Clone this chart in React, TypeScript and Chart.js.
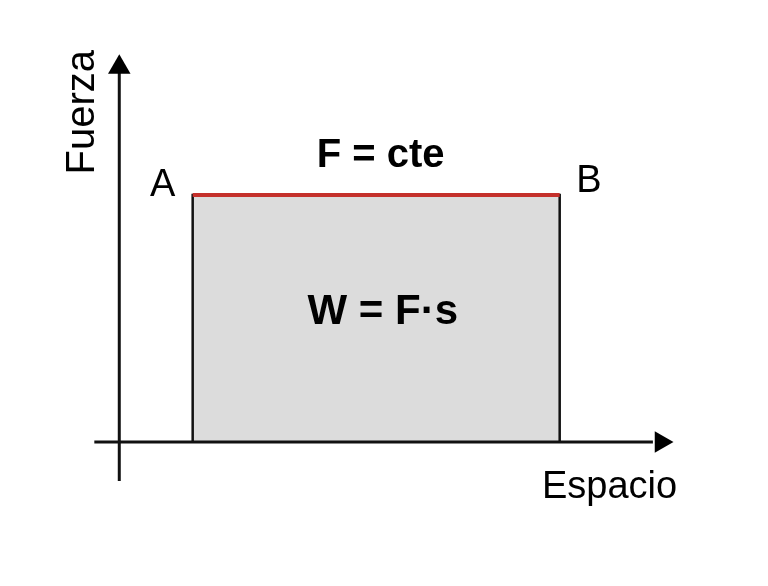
import React, { useEffect, useRef } from "react";
import { Chart, registerables } from "chart.js";

Chart.register(...registerables);

// Work diagram: constant force F over displacement s
const spaceStart = 1; // point A (espacio)
const spaceEnd = 6; // point B (espacio)
const forceValue = 4; // F = cte

const xAxisRange = [-0.34, 7.27];
const yAxisRange = [-0.63, 6.0];
const xArrowTip = 7.38;
const yArrowTip = 6.07;

const labelTexts = ["Fuerza", "Espacio", "A", "B", "F = cte", "W = F·s"];

export default function App() {
  const ref = useRef<HTMLCanvasElement | null>(null);

  useEffect(() => {
    if (!ref.current) return;

    const textPlugin = {
      id: "diagramText",
      afterDatasetsDraw(chart: any) {
        const { ctx, scales } = chart;
        const X = (v: number) => scales.x.getPixelForValue(v);
        const Y = (v: number) => scales.y.getPixelForValue(v);
        const fam = "'Liberation Sans', Arial, sans-serif";
        const items = [
          { t: labelTexts[0], x: -0.5, y: 5.34, font: `40px ${fam}`, rot: -Math.PI / 2, base: "middle" },
          { t: labelTexts[1], x: 6.68, y: -0.91, font: `38px ${fam}`, rot: 0, base: "alphabetic" },
          { t: labelTexts[2], x: spaceStart - 0.41, y: forceValue + 0.16, font: `38px ${fam}`, rot: 0, base: "middle" },
          { t: labelTexts[3], x: spaceEnd + 0.4, y: forceValue + 0.22, font: `38px ${fam}`, rot: 0, base: "middle" },
          { t: labelTexts[4], x: (spaceStart + spaceEnd) / 2 + 0.06, y: forceValue + 0.64, font: `bold 40px ${fam}`, rot: 0, base: "middle" },
          { t: labelTexts[5], x: (spaceStart + spaceEnd) / 2 + 0.09, y: forceValue / 2 + 0.1, font: `bold 42px ${fam}`, rot: 0, base: "middle" },
        ];
        ctx.save();
        ctx.fillStyle = "#000";
        ctx.textAlign = "center";
        for (const it of items) {
          ctx.save();
          ctx.font = it.font;
          ctx.textBaseline = it.base;
          ctx.translate(X(it.x), Y(it.y));
          ctx.rotate(it.rot);
          ctx.fillText(it.t, 0, 0);
          ctx.restore();
        }
        ctx.restore();
      },
    };

    const chart = new Chart(ref.current, {
      type: "line",
      data: {
        datasets: [
          {
            label: "Trabajo",
            order: 3,
            data: [
              { x: spaceStart, y: 0 },
              { x: spaceStart, y: forceValue },
              { x: spaceEnd, y: forceValue },
              { x: spaceEnd, y: 0 },
            ],
            borderColor: "#111",
            borderWidth: 2.5,
            backgroundColor: "#dcdcdc",
            fill: "origin",
            pointRadius: 0,
            tension: 0,
          },
          {
            label: "F",
            order: 1,
            data: [
              { x: spaceStart, y: forceValue },
              { x: spaceEnd, y: forceValue },
            ],
            borderColor: "#c4302b",
            borderWidth: 4,
            pointRadius: 0,
            fill: false,
          },
          {
            label: "ejeX",
            order: 2,
            data: [
              { x: xAxisRange[0], y: 0 },
              { x: xAxisRange[1], y: 0 },
            ],
            borderColor: "#111",
            borderWidth: 3,
            pointRadius: 0,
            fill: false,
          },
          {
            label: "ejeY",
            order: 2,
            data: [
              { x: 0, y: yAxisRange[0] },
              { x: 0, y: yAxisRange[1] },
            ],
            borderColor: "#111",
            borderWidth: 3,
            pointRadius: 0,
            fill: false,
          },
          {
            label: "flechaX",
            order: 0,
            data: [{ x: xArrowTip, y: 0 }],
            showLine: false,
            pointStyle: "triangle",
            pointRotation: 90,
            pointRadius: 12.5,
            backgroundColor: "#000",
            borderColor: "#000",
            borderWidth: 0,
          },
          {
            label: "flechaY",
            order: 0,
            data: [{ x: 0, y: yArrowTip }],
            showLine: false,
            pointStyle: "triangle",
            pointRotation: 0,
            pointRadius: 13,
            backgroundColor: "#000",
            borderColor: "#000",
            borderWidth: 0,
          },
        ],
      },
      options: {
        animation: false,
        responsive: true,
        maintainAspectRatio: false,
        layout: { padding: 0, autoPadding: false },
        plugins: { legend: { display: false }, tooltip: { enabled: false } },
        events: [],
        scales: {
          x: { type: "linear", min: -1.625, max: 8.838, display: false },
          y: { type: "linear", min: -2.332, max: 7.158, display: false },
        },
      },
      plugins: [textPlugin],
    });
    return () => chart.destroy();
  }, []);

  return (
    <div style={{ position: "fixed", left: 0, top: 0, width: 768, height: 586, background: "#fff" }}>
      <canvas ref={ref} />
    </div>
  );
}
